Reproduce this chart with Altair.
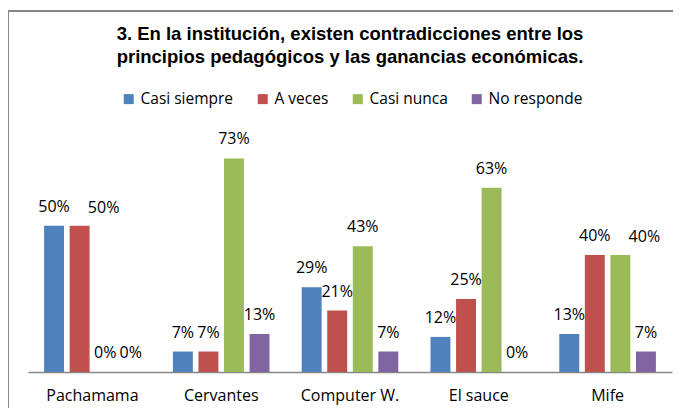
import altair as alt
import pandas as pd

categories = ["Pachamama", "Cervantes", "Computer W.", "El sauce", "Mife"]
series = ["Casi siempre", "A veces", "Casi nunca", "No responde"]
colors = ["#4F81BD", "#C0504D", "#9BBB59", "#8064A2"]

casi_siempre = [50, 7, 29, 12, 13]
a_veces = [50, 7, 21, 25, 40]
casi_nunca = [0, 73, 43, 63, 40]
no_responde = [0, 13, 7, 0, 7]

values = [casi_siempre, a_veces, casi_nunca, no_responde]
rows = []
for s, vals in zip(series, values):
    for c, v in zip(categories, vals):
        rows.append({"cat": c, "serie": s, "val": v, "label": f"{v}%"})
df = pd.DataFrame(rows)

FONT = "Open Sans"

x = alt.X("cat:N", sort=categories, title=None,
          scale=alt.Scale(paddingInner=0.25, paddingOuter=0.125),
          axis=alt.Axis(labelAngle=0, ticks=False, domainColor="#868686", domainWidth=1.5,
                        labelFont=FONT, labelFontSize=16, labelColor="#000000",
                        labelPadding=15))
xo = alt.XOffset("serie:N", sort=series, scale=alt.Scale(paddingInner=0.22, paddingOuter=0))
y = alt.Y("val:Q", scale=alt.Scale(domain=[0, 80]), axis=None)

base = alt.Chart(df)

bars = base.mark_bar().encode(
    x=x, xOffset=xo, y=y,
    color=alt.Color("serie:N", sort=series,
                    scale=alt.Scale(domain=series, range=colors),
                    legend=alt.Legend(title=None, orient="none", direction="horizontal",
                                      legendX=93, legendY=-47,
                                      symbolType="square", symbolSize=100,
                                      symbolStrokeWidth=0,
                                      labelFont=FONT, labelFontSize=15.5,
                                      labelColor="#000000", columnPadding=21,
                                      labelOffset=4)),
)

shifted = ((alt.datum.cat == "Pachamama") & (alt.datum.serie == "A veces")) | \
          ((alt.datum.cat == "Mife") & (alt.datum.serie == "Casi nunca"))

labels = base.transform_filter(~shifted).mark_text(
    baseline="bottom", dy=-11, font=FONT, fontSize=16, color="#000000").encode(
    x=x, xOffset=xo, y=y, text="label:N")

labels_shift = base.transform_filter(shifted).mark_text(
    baseline="bottom", dy=-10, dx=24, font=FONT, fontSize=16, color="#000000").encode(
    x=x, xOffset=xo, y=y, text="label:N")

frame = alt.Chart(pd.DataFrame({"k": [0]})).mark_rect(
    fill=None, stroke="#868686", strokeWidth=2).encode(
    x=alt.value(-20), x2=alt.value(720), y=alt.value(-127), y2=alt.value(400))

chart = alt.layer(frame, bars, labels, labels_shift).properties(
    width=644, height=234,
    autosize=alt.AutoSizeParams(type="none"),
    padding={"left": 20, "top": 130, "right": 1, "bottom": 36},
    title=alt.TitleParams(
        text=["3. En la institución, existen contradicciones entre los",
              "principios pedagógicos y las ganancias económicas."],
        font="Liberation Sans", fontSize=18.5, fontWeight="bold", color="#000000",
        anchor="middle", lineHeight=23, baseline="top", dy=56, offset=0),
).configure_view(stroke=None)

chart.save("out.html", embed_options={"renderer": "svg", "actions": False})
